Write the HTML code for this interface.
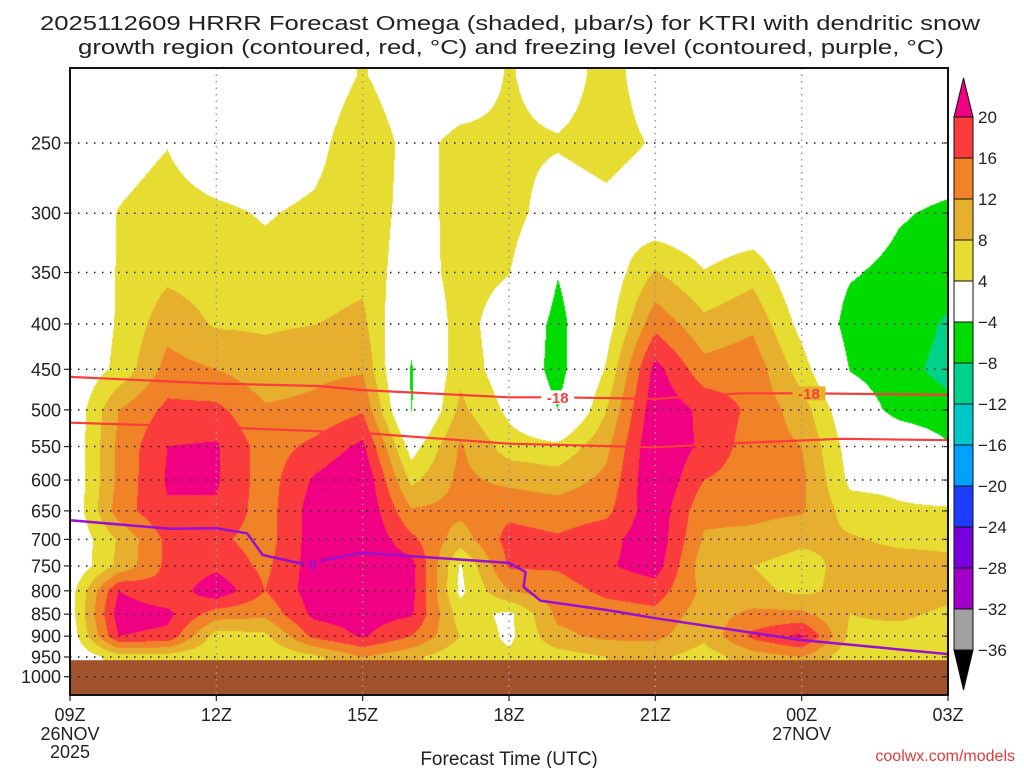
<!DOCTYPE html>
<html>
<head>
<meta charset="utf-8">
<style>
  html, body { margin: 0; padding: 0; background: #ffffff; }
  #wrap { position: relative; width: 1024px; height: 768px; overflow: hidden; background: #fff; }
  #field { position: absolute; left: 0; top: 0; }
  #overlay { position: absolute; left: 0; top: 0; }
  text { font-family: "Liberation Sans", "DejaVu Sans", sans-serif; }
</style>
</head>
<body>
<div id="wrap">
  <canvas id="field" width="1024" height="768"></canvas>
  <svg id="overlay" width="1024" height="768" xmlns="http://www.w3.org/2000/svg">
    <g id="title">
      <text x="510" y="30" text-anchor="middle" font-size="20" fill="#222" textLength="940" lengthAdjust="spacingAndGlyphs">2025112609 HRRR Forecast Omega (shaded, μbar/s) for KTRI with dendritic snow</text>
      <text x="511" y="54" text-anchor="middle" font-size="20" fill="#222" textLength="866" lengthAdjust="spacingAndGlyphs">growth region (contoured, red, °C) and freezing level (contoured, purple, °C)</text>
    </g>
    <g id="ground"></g>
    <g id="grid"></g>
    <g id="lines"></g>
    <g id="axes"></g>
    <g id="colorbar"></g>
    <text x="509" y="765" text-anchor="middle" font-size="19" fill="#222">Forecast Time (UTC)</text>
    <text x="1015" y="761" text-anchor="end" font-size="16" fill="#e03a3a">coolwx.com/models</text>
  </svg>
</div>
<script>
// ---- data ----
const forecastHours = [0,1,2,3,4,5,6,7,8,9,10,11,12,13,14,15,16,17,18];
const pressureLevels = [210,250,300,350,400,450,500,550,600,650,700,750,800,850,900,950];
const omega210 = [0,0,0,0,0,0,4.5,0,0,4.5,1,6,1,0,0,0,0,0,0];
const omega250 = [0,2,3.8,0,0,2,8,2,5.5,5,4.5,6,3.5,0,0,0,0,0,0];
const omega300 = [0,4.2,6,5,3.6,5,7,2,5.5,6,1,2.5,0.3,0,0,0,0,-3.5,-5];
const omega350 = [0,4.3,7,6,5.5,6,7,1,6,4.2,-3.8,1,8.4,4.2,6.6,0,-3.5,-5.5,-6.5];
const omega400 = [0,4.4,10.5,7.5,7.5,7.9,9,-2,6,1,-5.5,2,14.7,9.1,11.2,2.5,-6,-6,-8.5];
const omega450 = [0,5,13.5,12,9.5,11,11.5,-4.5,7,1,-6,4.5,21.5,13.5,14.5,6,-4.3,-7,-9];
const omega500 = [0,12,17,17,12.5,13,15.5,-4.2,9,3,-4,8,23,19,15,10,0,-6,-7];
const omega550 = [0,13,20,20.5,14,17,21,2,12.5,6,5,11,24,19,14,12,2,1,-3.5];
const omega600 = [0,13,20.5,20.5,14,20.5,24,7,13,11,10,13,24,16,14,13,3,3,1];
const omega650 = [0,14,19.5,19.5,14,22,24,12.5,13,15,14,15,23,13,13,12.5,6,4.5,4.5];
const omega700 = [0,8.5,17,17,14,22,24,17,10,17.5,16.5,18.5,23,11.5,11,9,8.5,7,7];
const omega750 = [0,9,17,19,15,22,24,21.5,3.5,16.5,16.5,19.5,22,9.5,8,6,10,10,9];
const omega800 = [2,20,17,23,16,22,23,21.5,3,12,14,17,18,11,9,7,9.5,11,9.5];
const omega850 = [2,22,21,14,13,21,22,20.5,6,3,13,14,15,10,13,13,8,9,7];
const omega900 = [1,20,19,6,7,17,20.5,16,8,3,11,13,13,9,17,21,7,6,5];
const omega950 = [0,6,6,4.5,4.5,7,12,9,5,5,6,8,9,6,10,12,5,4.5,4.2];
const omegaRows = [omega210,omega250,omega300,omega350,omega400,omega450,omega500,omega550,omega600,omega650,omega700,omega750,omega800,omega850,omega900,omega950];
const surfacePressure = 958;

const tickPressures = [250,300,350,400,450,500,550,600,650,700,750,800,850,900,950,1000];
const timeTickHours = [0,3,6,9,12,15,18];
const timeTickLabels = ["09Z","12Z","15Z","18Z","21Z","00Z","03Z"];
const dateLabelHours = [0,15];
const dateLabels = ["26NOV","27NOV"];

const dgzUpperHours = [0,3,5.1,6,9,10,12,13.75,15.1,18];
const dgzUpperP = [459,467,470,475,484,484,486,479,479,481];
const dgzLowerHours = [0,3,6,9,12,13.75,15.8,18];
const dgzLowerP = [517,523,531,546,551,545,539,541];
const freezeHours = [0,2.05,3,3.63,3.95,4.77,6,9,9.34,9.3,9.65,11.02,12,14.98,18];
const freezeP = [666,681,680,689,729,746,725,744,762,792,821,841,859,909,943];

const colorLevels = [-36,-32,-28,-24,-20,-16,-12,-8,-4,4,8,12,16,20];
const colorLevelLabels = ["-36","-32","-28","-24","-20","-16","-12","-8","-4","4","8","12","16","20"];
const fillColors = ["#000000","#a0a0a0","#a000c8","#7800dc","#1e3cff","#00a0ff","#00c8c8","#00d28c","#00dc00","#ffffff","#e6dc32","#e6af2d","#f08228","#fa3c3c","#f00082"];

// ---- axes ----
const X0 = 70, X1 = 948, Y0 = 68, Y1 = 695;
function xOf(h){ return X0 + h * (X1 - X0) / 18; }
function yOf(p){ return 143 + 385 * Math.log(p / 250); }
function colorFor(v){
  let i = 0;
  while (i < colorLevels.length && v >= colorLevels[i]) i++;
  return fillColors[i];
}
const NS = "http://www.w3.org/2000/svg";
function mk(tag, attrs, parent){
  const e = document.createElementNS(NS, tag);
  for (const k in attrs) e.setAttribute(k, attrs[k]);
  parent.appendChild(e);
  return e;
}

// ---- shaded field ----
(function(){
  const cv = document.getElementById('field');
  const ctx = cv.getContext('2d');
  const rowY = pressureLevels.map(yOf);
  const img = ctx.createImageData(X1 - X0, Y1 - Y0);
  const cache = {};
  function rgb(c){ if(!cache[c]) cache[c] = [parseInt(c.substr(1,2),16),parseInt(c.substr(3,2),16),parseInt(c.substr(5,2),16)]; return cache[c]; }
  const nH = forecastHours.length;
  for (let py = Y0; py < Y1; py++) {
    const yy = py + 0.5;
    let j = 0, fy = 0;
    if (yy <= rowY[0]) { j = 0; fy = 0; }
    else if (yy >= rowY[rowY.length-1]) { j = rowY.length - 2; fy = 1; }
    else { while (j < rowY.length - 2 && yy > rowY[j+1]) j++; fy = (yy - rowY[j]) / (rowY[j+1] - rowY[j]); }
    for (let px = X0; px < X1; px++) {
      const xx = px + 0.5;
      let hh = 0, fx = 0;
      for (hh = 0; hh < nH - 2 && xx > xOf(forecastHours[hh+1]); hh++);
      fx = (xx - xOf(forecastHours[hh])) / (xOf(forecastHours[hh+1]) - xOf(forecastHours[hh]));
      fx = Math.max(0, Math.min(1, fx));
      const a = omegaRows[j][hh], b = omegaRows[j][hh+1], c = omegaRows[j+1][hh], d = omegaRows[j+1][hh+1];
      const v = (a*(1-fx) + b*fx)*(1-fy) + (c*(1-fx) + d*fx)*fy;
      const col = rgb(colorFor(v));
      const k = ((py - Y0) * (X1 - X0) + (px - X0)) * 4;
      img.data[k] = col[0]; img.data[k+1] = col[1]; img.data[k+2] = col[2]; img.data[k+3] = 255;
    }
  }
  ctx.putImageData(img, X0, Y0);
})();

// ---- ground ----
(function(){
  const g = document.getElementById('ground');
  const r = mk('rect', {x: X0, y: yOf(surfacePressure), width: X1 - X0, height: Y1 - yOf(surfacePressure), fill: '#a0522d'}, g);
  
  
})();

// ---- grid ----
(function(){
  const g = document.getElementById('grid');
  tickPressures.forEach(p => {
    const l = mk('line', {x1: X0, x2: X1, y1: yOf(p), y2: yOf(p), stroke: '#222', 'stroke-width': 1.5, 'stroke-dasharray': '1.5 6.5'}, g);
    
    
  });
  timeTickHours.slice(1, -1).forEach(h => {
    const l = mk('line', {x1: xOf(h), x2: xOf(h), y1: Y0, y2: Y1, stroke: '#999', 'stroke-width': 1.5, 'stroke-dasharray': '1.5 5'}, g);
    
    
  });
})();

// ---- contour lines ----
(function(){
  const g = document.getElementById('lines');
  function poly(hs, ps, color, w, name){
    const pts = hs.map((h, i) => xOf(h).toFixed(1) + ',' + yOf(ps[i]).toFixed(1)).join(' ');
    const l = mk('polyline', {points: pts, fill: 'none', stroke: color, 'stroke-width': w, 'stroke-linejoin': 'round'}, g);
    
    
  }
  poly(dgzUpperHours, dgzUpperP, '#fa3c3c', 2.2, 'dgz-minus18-contour');
  poly(dgzLowerHours, dgzLowerP, '#fa3c3c', 2.2, 'dgz-minus12-contour');
  poly(freezeHours, freezeP, '#9a10d0', 2.5, 'freezing-level-contour');
  function label(h, p, txt, color, name, bg){
    const x = xOf(h), y = yOf(p);
    const bw = txt.length * 9 + 6;
    const r = mk('rect', {x: x - bw/2, y: y - 7, width: bw, height: 14, fill: bg}, g);
    
    
    const t = mk('text', {x: x, y: y + 5.5, 'text-anchor': 'middle', 'font-size': 15, 'font-weight': 'bold', fill: color}, g);
    t.textContent = txt;
    
    
  }
  label(10, 484, '-18', '#fa3c3c', 'dgz-label-1', '#ffffff');
  label(15.15, 479, '-18', '#fa3c3c', 'dgz-label-2', '#e6af2d');
  label(4.98, 746, '0', '#9a10d0', 'freezing-label', '#f00082');
})();

// ---- axes ----
(function(){
  const g = document.getElementById('axes');
  const f = mk('rect', {x: X0, y: Y0, width: X1 - X0, height: Y1 - Y0, fill: 'none', stroke: '#111', 'stroke-width': 2}, g);
  
  
  tickPressures.forEach(p => {
    const y = yOf(p);
    const t = mk('line', {x1: X0 - 6, x2: X0, y1: y, y2: y, stroke: '#222', 'stroke-width': 1.2}, g);
    
    
    const t2 = mk('line', {x1: X1 - 4, x2: X1, y1: y, y2: y, stroke: '#222', 'stroke-width': 1.2}, g);
    
    
    const lb = mk('text', {x: X0 - 9, y: y + 6.5, 'text-anchor': 'end', 'font-size': 18, fill: '#222'}, g);
    lb.textContent = String(p);
    
    
  });
  timeTickHours.forEach((h, i) => {
    const x = xOf(h);
    const t = mk('line', {x1: x, x2: x, y1: Y1, y2: Y1 + 6, stroke: '#222', 'stroke-width': 1.2}, g);
    
    
    const lb = mk('text', {x: x, y: Y1 + 26, 'text-anchor': 'middle', 'font-size': 18, fill: '#222'}, g);
    lb.textContent = timeTickLabels[i];
    
    
  });
  dateLabelHours.forEach((h, i) => {
    const lb = mk('text', {x: xOf(h), y: Y1 + 45, 'text-anchor': 'middle', 'font-size': 18, fill: '#222'}, g);
    lb.textContent = dateLabels[i];
    
    
  });
  const yr = mk('text', {x: xOf(0), y: Y1 + 63, 'text-anchor': 'middle', 'font-size': 18, fill: '#222'}, g);
  yr.textContent = '2025';
  
  
})();

// ---- colorbar ----
(function(){
  const g = document.getElementById('colorbar');
  const cx0 = 954, cw = 19, top = 117, step = 41;
  const n = colorLevels.length;
  for (let i = 1; i < n; i++) {
    const yTop = top + (n - 1 - i) * step;
    const r = mk('rect', {x: cx0, y: yTop, width: cw, height: step, fill: fillColors[i], stroke: '#111', 'stroke-width': 1}, g);
    
    
  }
  const bottom = top + (n - 1) * step;
  const up = mk('polygon', {points: cx0 + ',' + top + ' ' + (cx0 + cw) + ',' + top + ' ' + (cx0 + cw/2) + ',' + (top - 39), fill: fillColors[n], stroke: '#111', 'stroke-width': 1}, g);
  
  
  const dn = mk('polygon', {points: cx0 + ',' + bottom + ' ' + (cx0 + cw) + ',' + bottom + ' ' + (cx0 + cw/2) + ',' + (bottom + 40), fill: fillColors[0], stroke: '#111', 'stroke-width': 1}, g);
  
  
  for (let i = 0; i < n; i++) {
    const y = bottom - i * step;
    const lb = mk('text', {x: 978, y: y + 6, 'font-size': 17, fill: '#222'}, g);
    lb.textContent = colorLevelLabels[i].replace('-', '−');
    
    
  }
})();
</script>
</body>
</html>
